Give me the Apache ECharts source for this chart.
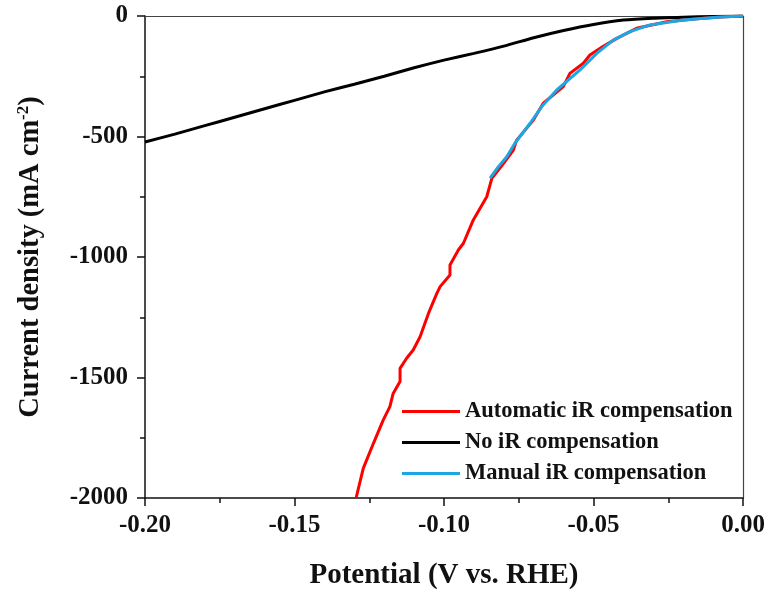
<!DOCTYPE html>
<html>
<head>
<meta charset="utf-8">
<script src="https://cdn.jsdelivr.net/npm/echarts@6/dist/echarts.min.js"></script>
<style>html,body{margin:0;padding:0;background:#fff;}#c{width:771px;height:592px;}</style>
</head>
<body>
<div id="c"></div>
<script>
// Tick labels
const xTicks = [-0.20, -0.15, -0.10, -0.05, 0.00];
const yTicks = [-2000, -1500, -1000, -500, 0];

// Series names
const seriesNames = ['Automatic iR compensation', 'No iR compensation', 'Manual iR compensation'];

// Automatic iR compensation (red)
const autoV = [-0.1294, -0.1270, -0.1236, -0.1203, -0.1181, -0.1170, -0.1147, -0.1147, -0.1125, -0.1103, -0.1080, -0.1052, -0.1024, -0.1013, -0.0980, -0.0980, -0.0952, -0.0935, -0.0902, -0.0857, -0.0840, -0.0800, -0.0768, -0.0757, -0.0701, -0.0668, -0.0601, -0.0579, -0.0534, -0.0512, -0.0470, -0.0422, -0.0356, -0.0255, -0.0144, -0.0060, 0.0000];
const autoJ = [-2000, -1877, -1773, -1676, -1621, -1566, -1517, -1462, -1420, -1386, -1331, -1234, -1151, -1123, -1075, -1033, -971, -943, -846, -750, -674, -610, -556, -515, -432, -362, -293, -238, -196, -162, -128, -93, -51, -24, -10, -3, 0];

// No iR compensation (black)
const noV = [-0.200, -0.190, -0.180, -0.170, -0.160, -0.150, -0.140, -0.130, -0.120, -0.110, -0.100, -0.090, -0.080, -0.070, -0.060, -0.050, -0.040, -0.030, -0.020, -0.010, 0.000];
const noJ = [-523, -490, -455, -420, -385, -350, -315, -283, -250, -215, -183, -155, -125, -90, -60, -35, -17, -9, -5, -2, 0];

// Manual iR compensation (blue)
const manV = [-0.0846, -0.0818, -0.0790, -0.0763, -0.0712, -0.0673, -0.0623, -0.0545, -0.0489, -0.0434, -0.0378, -0.0311, -0.0200, -0.0088, 0.0000];
const manJ = [-673, -625, -584, -528, -445, -376, -307, -224, -155, -100, -65, -37, -17, -5, 0];

const zip = (a, b) => a.map((v, i) => [v, b[i]]);
const font = '"Liberation Serif", "Times New Roman", serif';
const frameAxis = {
  axisLine: {show: true, onZero: false, lineStyle: {color: '#444', width: 1.2}},
  axisTick: {show: false}, minorTick: {show: false}, minorSplitLine: {show: false},
  axisLabel: {show: false}, splitLine: {show: false}
};

const chart = echarts.init(document.getElementById('c'), null, {renderer: 'canvas'});
chart.setOption({
  animation: false,
  backgroundColor: '#fff',
  grid: {left: 145, right: 28, top: 16, bottom: 94, outerBoundsMode: 'none', containLabel: false},
  legend: {
    left: 402, top: 400, orient: 'vertical', padding: 0,
    itemWidth: 58, itemHeight: 3, itemGap: 8, icon: 'rect',
    textStyle: {fontFamily: font, fontWeight: 'bold', fontSize: 22.5, color: '#111', lineHeight: 22},
    data: seriesNames
  },
  xAxis: [{
    type: 'value', min: -0.2, max: 0, interval: 0.05, position: 'bottom',
    name: 'Potential (V vs. RHE)', nameLocation: 'middle', nameGap: 63,
    nameTextStyle: {fontFamily: font, fontWeight: 'bold', fontSize: 29, color: '#111'},
    axisLine: {onZero: false, lineStyle: {color: '#111', width: 1.5}},
    axisTick: {inside: false, length: 8, lineStyle: {color: '#111', width: 1.5}},
    minorTick: {show: true, splitNumber: 2, length: 5, lineStyle: {color: '#111', width: 1.5}},
    splitLine: {show: false}, minorSplitLine: {show: false},
    axisLabel: {margin: 15, fontFamily: font, fontWeight: 'bold', fontSize: 25, color: '#111',
      formatter: v => { const t = xTicks.find(x => Math.abs(x - v) < 1e-9); return (t !== undefined ? t : v).toFixed(2); }}
  }, Object.assign({type: 'value', min: -0.2, max: 0, position: 'top'}, frameAxis)],
  yAxis: [{
    type: 'value', min: -2000, max: 0, interval: 500, position: 'left',
    name: 'Current density (mA cm{sup|-2})', nameLocation: 'middle', nameGap: 98,
    nameTextStyle: {fontFamily: font, fontWeight: 'bold', fontSize: 28.5, color: '#111',
      rich: {sup: {fontFamily: font, fontWeight: 'bold', fontSize: 17, color: '#111', verticalAlign: 'top', lineHeight: 32}}},
    axisLine: {onZero: false, lineStyle: {color: '#111', width: 1.5}},
    axisTick: {inside: false, length: 8, lineStyle: {color: '#111', width: 1.5}},
    minorTick: {show: true, splitNumber: 2, length: 5, lineStyle: {color: '#111', width: 1.5}},
    splitLine: {show: false}, minorSplitLine: {show: false},
    axisLabel: {margin: 17, fontFamily: font, fontWeight: 'bold', fontSize: 25, color: '#111',
      formatter: v => String(Math.round(v))}
  }, Object.assign({type: 'value', min: -2000, max: 0, position: 'right'}, frameAxis)],
  series: [
    {name: seriesNames[1], type: 'line', data: zip(noV, noJ), showSymbol: false, smooth: 0.2,
      lineStyle: {color: '#000', width: 3}, itemStyle: {color: '#000'}, z: 2},
    {name: seriesNames[0], type: 'line', data: zip(autoV, autoJ), showSymbol: false,
      lineStyle: {color: '#ff0000', width: 3}, itemStyle: {color: '#ff0000'}, z: 3},
    {name: seriesNames[2], type: 'line', data: zip(manV, manJ), showSymbol: false,
      lineStyle: {color: '#1ca6e3', width: 3}, itemStyle: {color: '#1ca6e3'}, z: 4}
  ]
});
</script>
</body>
</html>
